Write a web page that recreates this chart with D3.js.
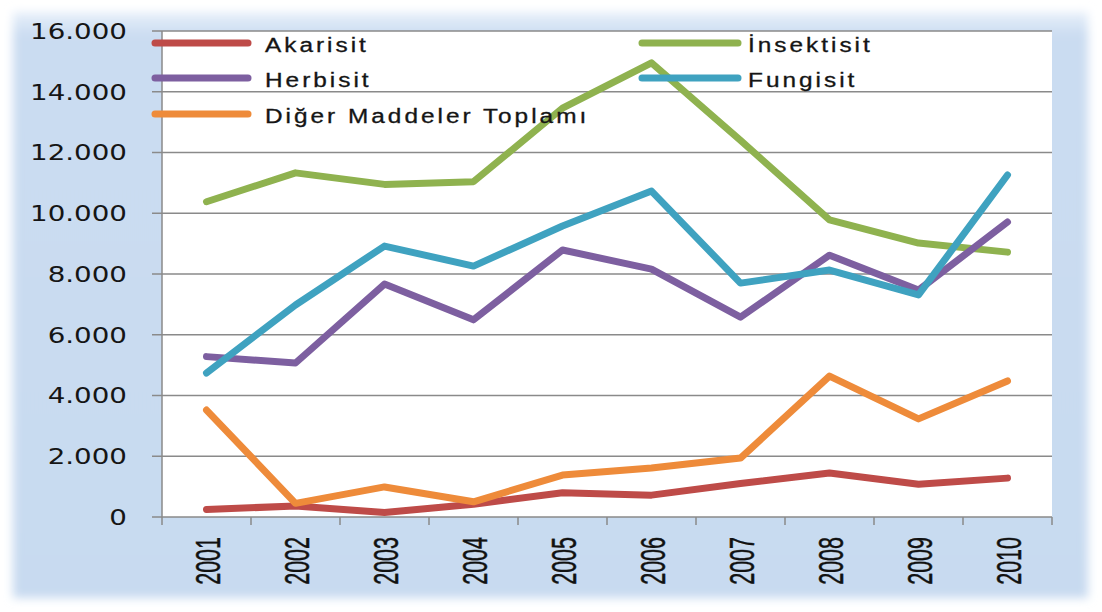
<!DOCTYPE html>
<html>
<head>
<meta charset="utf-8">
<script src="https://cdn.jsdelivr.net/npm/d3@7"></script>
<style>
  html, body { margin: 0; padding: 0; background: #fff; }
  svg { display: block; }
</style>
</head>
<body>
<svg id="chart" width="1102" height="612"></svg>
<script>
// data
const years = ["2001", "2002", "2003", "2004", "2005", "2006", "2007", "2008", "2009", "2010"];
const akarisit = [250, 360, 150, 420, 800, 720, 1100, 1450, 1080, 1280];
const insektisit = [10380, 11330, 10950, 11040, 13460, 14950, 12400, 9780, 9020, 8720];
const herbisit = [5280, 5070, 7670, 6490, 8790, 8160, 6580, 8620, 7470, 9710];
const fungisit = [4740, 6980, 8920, 8260, 9580, 10730, 7700, 8130, 7310, 11260];
const diger = [3520, 450, 990, 500, 1380, 1610, 1940, 4640, 3230, 4480];
const yTicks = [0, 2000, 4000, 6000, 8000, 10000, 12000, 14000, 16000];

const series = [
  { name: "Akarisit", values: akarisit, color: "#be4b48", col: 0, row: 0 },
  { name: "İnsektisit", values: insektisit, color: "#8fb24f", col: 1, row: 0 },
  { name: "Herbisit", values: herbisit, color: "#7d5fa0", col: 0, row: 1 },
  { name: "Fungisit", values: fungisit, color: "#3fa2c0", col: 1, row: 1 },
  { name: "Diğer Maddeler Toplamı", values: diger, color: "#ee8b3a", col: 0, row: 2 }
];

const svg = d3.select("#chart");
const plot = { left: 162, right: 1052, top: 31, bottom: 517 };

// background panel with soft edges
const defs = svg.append("defs");
defs.append("filter").attr("id", "soft")
  .attr("x", "-5%").attr("y", "-5%").attr("width", "110%").attr("height", "110%")
  .append("feGaussianBlur").attr("stdDeviation", 5);
const grad = defs.append("linearGradient").attr("id", "topfade")
  .attr("x1", 0).attr("y1", 0).attr("x2", 0).attr("y2", 1);
grad.append("stop").attr("offset", "0%").attr("stop-color", "#e8f0fa");
grad.append("stop").attr("offset", "4%").attr("stop-color", "#cadcf1");
grad.append("stop").attr("offset", "100%").attr("stop-color", "#c8daf0");

svg.append("rect")
  .attr("x", 13).attr("y", 12).attr("width", 1075).attr("height", 586)
  .attr("fill", "url(#topfade)")
  .attr("filter", "url(#soft)");

// plot area
svg.append("rect")
  .attr("x", plot.left).attr("y", plot.top)
  .attr("width", plot.right - plot.left).attr("height", plot.bottom - plot.top)
  .attr("fill", "#fff");

const x = d3.scaleBand().domain(years).range([plot.left, plot.right]).padding(0);
const y = d3.scaleLinear().domain([0, 16000]).range([plot.bottom, plot.top]);

// gridlines
svg.append("g")
  .selectAll("line")
  .data(yTicks)
  .join("line")
  .attr("x1", plot.left - 10).attr("x2", plot.right)
  .attr("y1", d => y(d)).attr("y2", d => y(d))
  .attr("stroke", "#8a8a8a").attr("stroke-width", 1.5);

// left axis line
svg.append("line")
  .attr("x1", plot.left).attr("x2", plot.left)
  .attr("y1", plot.top).attr("y2", plot.bottom)
  .attr("stroke", "#8a8a8a").attr("stroke-width", 1.5);

// bottom ticks on band edges
const edges = years.map(d => x(d)).concat([plot.right]);
svg.append("g")
  .selectAll("line")
  .data(edges)
  .join("line")
  .attr("x1", d => d).attr("x2", d => d)
  .attr("y1", plot.bottom).attr("y2", plot.bottom + 8)
  .attr("stroke", "#8a8a8a").attr("stroke-width", 1.5);

// y labels
const fmt = d => d === 0 ? "0" : d3.format(",")(d).replace(",", ".");
svg.append("g")
  .selectAll("g")
  .data(yTicks)
  .join("g")
  .attr("transform", d => `translate(127,${y(d)}) scale(1.26,1)`)
  .append("text")
  .attr("text-anchor", "end")
  .attr("dy", "0.36em")
  .style("font-family", "DejaVu Sans, Verdana, sans-serif")
  .style("font-size", "22px")
  .style("fill", "#151515")
  .text(fmt);

// x labels, rotated
svg.append("g")
  .selectAll("g")
  .data(years)
  .join("g")
  .attr("transform", d => `translate(${x(d) + x.bandwidth() / 2 + 1},537) rotate(-90) scale(1,1.65)`)
  .append("text")
  .attr("text-anchor", "end")
  .attr("dy", "0.36em")
  .style("font-family", "Liberation Sans, Arial, sans-serif")
  .style("font-size", "21.5px")
  .style("fill", "#111")
  .style("stroke", "#111")
  .style("stroke-width", 0.3)
  .text(d => d);

// lines
const line = d3.line()
  .x((d, i) => x(years[i]) + x.bandwidth() / 2)
  .y(d => y(d));

svg.append("g")
  .selectAll("path")
  .data(series)
  .join("path")
  .attr("d", d => line(d.values))
  .attr("fill", "none")
  .attr("stroke", d => d.color)
  .attr("stroke-width", 7)
  .attr("stroke-linejoin", "round")
  .attr("stroke-linecap", "round");

// legend
const legCols = [{ x1: 155, x2: 248, tx: 265 }, { x1: 642, x2: 738, tx: 748 }];
const legRows = [43, 78, 114];
const leg = svg.append("g")
  .selectAll("g")
  .data(series)
  .join("g");
leg.append("line")
  .attr("x1", d => legCols[d.col].x1).attr("x2", d => legCols[d.col].x2)
  .attr("y1", d => legRows[d.row]).attr("y2", d => legRows[d.row])
  .attr("stroke", d => d.color)
  .attr("stroke-width", 7)
  .attr("stroke-linecap", "round");
leg.append("g")
  .attr("transform", d => `translate(${legCols[d.col].tx},${legRows[d.row] + 2}) scale(1.25,1)`)
  .append("text")
  .attr("dy", "0.36em")
  .style("font-family", "Liberation Sans, Arial, sans-serif")
  .style("font-size", "19.5px")
  .style("letter-spacing", "2.4px")
  .style("fill", "#151515")
  .style("stroke", "#151515")
  .style("stroke-width", 0.3)
  .text(d => d.name);
</script>
</body>
</html>
